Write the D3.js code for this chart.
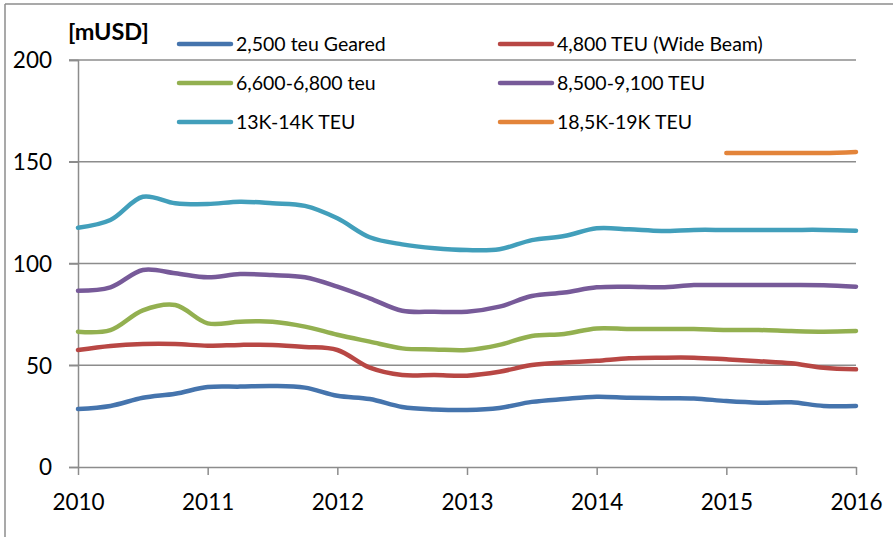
<!DOCTYPE html>
<html>
<head>
<meta charset="utf-8">
<script src="https://cdn.jsdelivr.net/npm/d3@7"></script>
<style>
  body { margin: 0; background: #fff; }
  svg text { font-family: Lato, "Open Sans", sans-serif; fill: #000; }
</style>
</head>
<body>
<div id="chart"></div>
<script>
// quarterly points, 2010.00 .. 2016.00
var quarters = d3.range(0, 25).map(function(i) { return 2010 + i * 0.25; });
var xTicks = [2010, 2011, 2012, 2013, 2014, 2015, 2016];
var yTicks = [0, 50, 100, 150, 200];

var names = ["2,500 teu Geared", "4,800 TEU (Wide Beam)", "6,600-6,800 teu",
             "8,500-9,100 TEU", "13K-14K TEU", "18,5K-19K TEU"];
var colors = ["#4574ad", "#b84744", "#93b050", "#775a99", "#429fbb", "#e3843a"];

var geared2500 = [28.5, 30, 34, 36, 39.3, 39.5, 39.8, 39, 35, 33.4, 29.5, 28.3, 28,
                  29, 32, 33.4, 34.5, 34, 33.8, 33.7, 32.4, 31.6, 31.8, 30, 30];
var wide4800 = [57.5, 59.5, 60.4, 60.4, 59.6, 60, 60, 59, 57.5, 48.8, 45.2, 45.2, 44.9,
                46.8, 50.1, 51.3, 52.2, 53.4, 53.7, 53.7, 52.9, 52, 51, 48.8, 48];
var teu6600 = [66.5, 67.3, 77, 79.6, 70.6, 71.4, 71.4, 69, 65, 61.6, 58.3, 57.8, 57.5,
               60, 64.4, 65.4, 68.1, 67.8, 67.8, 67.8, 67.3, 67.3, 66.8, 66.5, 66.8];
var teu8500 = [86.6, 88.3, 96.8, 95.2, 93.2, 94.8, 94.3, 93.2, 88.6, 82.9, 76.8, 76.3, 76.3,
               78.8, 84, 85.7, 88.3, 88.6, 88.3, 89.4, 89.4, 89.4, 89.4, 89.3, 88.6];
var teu13k = [117.6, 121.4, 132.8, 129.6, 129.2, 130.4, 129.6, 128.3, 122.2, 112.9, 109.4, 107.5, 106.6,
              107, 111.5, 113.5, 117.3, 116.8, 116, 116.5, 116.5, 116.5, 116.5, 116.5, 116.1];
var teu18k = [null, null, null, null, null, null, null, null, null, null, null, null, null,
              null, null, null, null, null, null, null, 154.3, 154.3, 154.3, 154.3, 154.8];

var series = [geared2500, wide4800, teu6600, teu8500, teu13k, teu18k];

var W = 893, H = 537;
var margin = { top: 60, right: 37, bottom: 70, left: 78 };
var width = W - margin.left - margin.right;
var height = H - margin.top - margin.bottom;

var svg = d3.select("#chart").append("svg")
  .attr("width", W)
  .attr("height", H);

// outer frame (top and left only visible)
svg.append("line").attr("x1", 5).attr("x2", W).attr("y1", 4).attr("y2", 4)
  .attr("stroke", "#8c8c8c").attr("stroke-width", 1.5);
svg.append("line").attr("x1", 5).attr("x2", 5).attr("y1", 4).attr("y2", H)
  .attr("stroke", "#8c8c8c").attr("stroke-width", 1.5);

var g = svg.append("g")
  .attr("transform", "translate(" + margin.left + "," + margin.top + ")");

var x = d3.scaleLinear().domain([2010, 2016]).range([0, width]);
var y = d3.scaleLinear().domain([0, 200]).range([height, 0]);

// gridlines
g.append("g")
  .selectAll("line")
  .data(yTicks.filter(function(d) { return d > 0; }))
  .enter().append("line")
  .attr("x1", -9).attr("x2", width)
  .attr("y1", function(d) { return y(d); })
  .attr("y2", function(d) { return y(d); })
  .attr("stroke", "#8c8c8c")
  .attr("stroke-width", 1.5);

// y axis
var yAxis = g.append("g")
  .call(d3.axisLeft(y).tickValues(yTicks).tickSize(9).tickPadding(17));
yAxis.select(".domain").attr("stroke", "#8c8c8c").attr("stroke-width", 1.5);
yAxis.selectAll("line").attr("stroke", "#8c8c8c").attr("stroke-width", 1.5);
yAxis.selectAll("text").style("font-size", "22.5px").attr("dy", "0.35em");

// x axis
var xAxis = g.append("g")
  .attr("transform", "translate(0," + height + ")")
  .call(d3.axisBottom(x).tickValues(xTicks).tickFormat(d3.format("d")).tickSizeInner(8).tickSizeOuter(0).tickPadding(19));
xAxis.select(".domain").attr("stroke", "#8c8c8c").attr("stroke-width", 1.5);
xAxis.selectAll("line").attr("stroke", "#8c8c8c").attr("stroke-width", 1.5);
xAxis.selectAll("text").style("font-size", "22.5px");

// lines
var line = d3.line()
  .defined(function(d) { return d != null; })
  .x(function(d, i) { return x(quarters[i]); })
  .y(function(d) { return y(d); })
  .curve(d3.curveCatmullRom.alpha(0.5));

series.forEach(function(s, k) {
  g.append("path")
    .datum(s)
    .attr("d", line)
    .attr("fill", "none")
    .attr("stroke", colors[k])
    .attr("stroke-width", 4.5)
    .attr("stroke-linecap", "round")
    .attr("stroke-linejoin", "round");
});

// unit label
svg.append("text")
  .attr("x", 68).attr("y", 40)
  .style("font-size", "23.5px")
  .style("font-weight", "bold")
  .text("[mUSD]");

// legend
var legend = svg.append("g");
names.forEach(function(n, k) {
  var lx = (k % 2 == 0) ? 179 : 500;
  var ly = 44 + Math.floor(k / 2) * 39;
  legend.append("line")
    .attr("x1", lx).attr("x2", lx + 52)
    .attr("y1", ly).attr("y2", ly)
    .attr("stroke", colors[k])
    .attr("stroke-width", 4.5)
    .attr("stroke-linecap", "round");
  legend.append("text")
    .attr("x", lx + 57).attr("y", ly)
    .attr("dy", "0.35em")
    .style("font-size", "19.5px")
    .text(n);
});
</script>
</body>
</html>
